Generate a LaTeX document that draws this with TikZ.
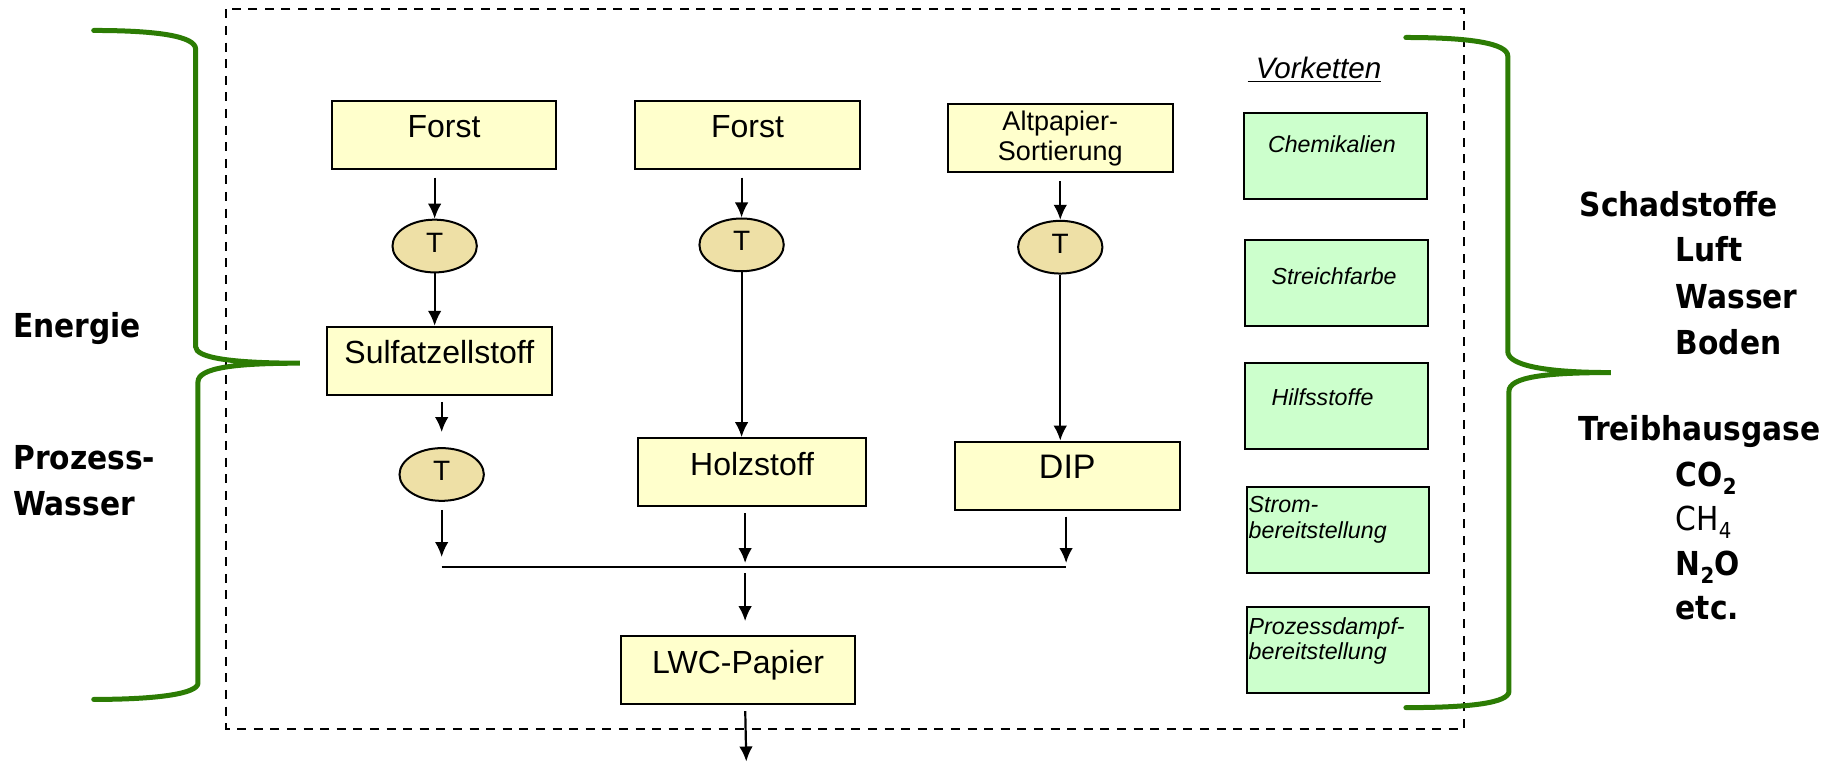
\documentclass[tikz,border=0pt]{standalone}
\usepackage{fontspec}
\setmainfont{Liberation Sans}
\newfontfamily\hfont{DejaVu Sans Condensed}
\usetikzlibrary{arrows.meta,shapes.geometric,calc}
\definecolor{boxyellow}{HTML}{FFFFCC}
\definecolor{tfill}{HTML}{EEE0A6}
\definecolor{boxgreen}{HTML}{CCFFCC}
\definecolor{bracegreen}{RGB}{44,124,4}
\newcommand\subtxt[1]{\raisebox{-4pt}{\fontsize{11}{11}\selectfont #1}}
\begin{document}
\begin{tikzpicture}[x=0.5858pt,y=-0.5858pt,
  procbase/.style={draw=black, line width=1pt, fill=boxyellow, inner sep=0pt,
    minimum width=192*0.5858pt, minimum height=58*0.5858pt},
  proc/.style={procbase, font=\fontsize{16}{18}\selectfont, text height=11.5pt, text depth=8.5pt},
  tnode/.style={ellipse, draw=black, line width=1pt, fill=tfill, inner sep=0pt,
    minimum width=72*0.5858pt, minimum height=45*0.5858pt,
    font=\fontsize{14}{14}\selectfont, text height=10pt, text depth=4pt},
  arr/.style={-{Latex[length=7.5pt,width=6.8pt]}, line width=1.1pt},
  vk/.style={draw=black, line width=1pt, fill=boxgreen, inner sep=0pt,
    minimum width=156*0.5858pt, minimum height=73.5*0.5858pt},
  vkt/.style={anchor=base west, inner sep=0pt, font=\itshape\fontsize{11.6}{13}\selectfont},
  big/.style={anchor=base west, inner sep=0pt, font=\hfont\bfseries\fontsize{16.5}{18}\selectfont},
  bigreg/.style={anchor=base west, inner sep=0pt, font=\hfont\fontsize{16.5}{18}\selectfont},
  brace/.style={draw=bracegreen, line width=2.5pt, line cap=round}
]
\useasboundingbox (0,0) rectangle (1568,651);

% dashed frame
\draw[line width=1pt, dash pattern=on 4.5pt off 3.8pt] (193,8) rectangle (1250,622);

% braces
\draw[brace] (80,26) .. controls (135,26) and (167,31) .. (167,42) -- (167,296)
  .. controls (167,305) and (195,310) .. (256,310)
  .. controls (200,310) and (169,314) .. (169,326) -- (169,583)
  .. controls (169,592) and (135,597) .. (80,597);
\draw[brace] (1200,32) .. controls (1255,32) and (1287,37) .. (1287,48) -- (1287,300)
  .. controls (1287,311) and (1315,318) .. (1375,318)
  .. controls (1318,318) and (1288,322) .. (1288,334) -- (1288,590)
  .. controls (1288,600) and (1255,604) .. (1200,604);

% left texts
\node[big] (energie) at (11,288) {Energie};
\node[big] (prozess) at (11,401) {Prozess-};
\node[big] (wasserl) at (11,440) {Wasser};

% right texts
\node[big] (schad) at (1348,185) {Schadstoffe};
\node[big] (luft) at (1430,223.5) {Luft};
\node[big] (wasserr) at (1430,263) {Wasser};
\node[big] (boden) at (1430,303) {Boden};
\node[big] (treib) at (1347,376) {Treibhausgase};
\node[big] (co2) at (1430,415.5) {CO\subtxt{2}};
\node[bigreg] (ch4) at (1430,453) {CH\subtxt{4}};
\node[big] (n2o) at (1430,491) {N\subtxt{2}O};
\node[big] (etc) at (1430,529) {etc.};

% column 1
\node[proc] (f1) at (379,115) {Forst};
\node[tnode] (t1) at (371,210) {T};
\node[proc] (s1) at (375,308) {Sulfatzellstoff};
\node[tnode] (t2) at (377,405) {T};
% column 2
\node[proc] (f2) at (638,115) {Forst};
\node[tnode] (t3) at (633,209) {T};
\node[proc, minimum width=195*0.5858pt] (h2) at (642,403) {Holzstoff};
% column 3
\node[procbase, align=center, font=\fontsize{13.5}{15}\selectfont] (a3) at (905,118) {Altpapier-\\Sortierung};
\node[tnode] (t4) at (905,211) {T};
\node[proc, font=\fontsize{17}{18}\selectfont] (d3) at (911,406) {DIP};
% output
\node[proc, minimum width=200*0.5858pt] (lwc) at (630,572) {LWC-Papier};

\coordinate (m1) at (377,484);
\coordinate (m2) at (910,484);
\coordinate (mc) at (636,484);
\coordinate (out) at (637,650);

\draw[arr, shorten <=4pt] (f1.south -| t1.north) -- (t1.north);
\draw[arr] (t1.south) -- (t1.south |- s1.north);
\draw[arr, shorten <=3pt, shorten >=7.5pt] (s1.south -| t2.north) -- (t2.north);
\draw[arr, shorten <=4pt, shorten >=5pt] (t2.south) -- (t2.south |- m1);
\draw[arr, shorten <=4pt] (f2.south -| t3.north) -- (t3.north);
\draw[arr] (t3.south) -- (t3.south |- h2.north);
\draw[arr, shorten <=3pt, shorten >=2pt] (h2.south -| mc) -- (mc);
\draw[arr, shorten <=4pt] (a3.south -| t4.north) -- (t4.north);
\draw[arr] (t4.south) -- (t4.south |- d3.north);
\draw[arr, shorten <=3pt, shorten >=2pt] (d3.south -| m2) -- (m2);
\draw[line width=0.9pt] (m1) -- (m2);
\draw[arr, shorten <=3pt, shorten >=7pt] (mc) -- (lwc.north -| mc);
\draw[arr, shorten <=3pt] (lwc.south -| mc) -- (out);

% Vorketten
\node[vkt, font=\itshape\fontsize{14.8}{18}\selectfont] (vkh) at (1064.5,67) {\underline{\ Vorketten}};
\node[vk] (g1) at (1140,133) {};
\node[vk] (g2) at (1141,241.5) {};
\node[vk] (g3) at (1141,346.5) {};
\node[vk] (g4) at (1142,452.5) {};
\node[vk] (g5) at (1142,555) {};
\node[vkt] (g1t) at (1082,130) {Chemikalien};
\node[vkt] (g2t) at (1085,243) {Streichfarbe};
\node[vkt] (g3t) at (1085,346) {Hilfsstoffe};
\node[vkt] (g4a) at (1065.5,437.5) {Strom-};
\node[vkt] (g4b) at (1065.5,459.5) {bereitstellung};
\node[vkt] (g5a) at (1065.5,542) {Prozessdampf-};
\node[vkt] (g5b) at (1065.5,563) {bereitstellung};
\end{tikzpicture}
\end{document}
